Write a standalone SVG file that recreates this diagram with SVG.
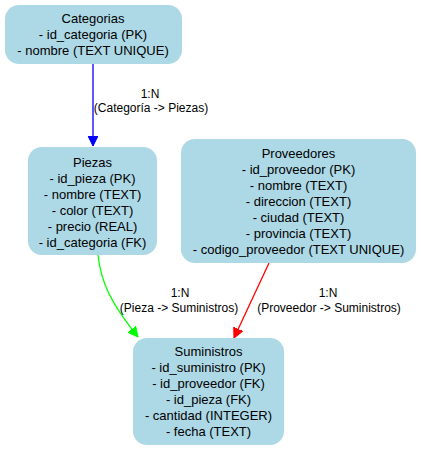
<svg xmlns="http://www.w3.org/2000/svg" width="421" height="451" viewBox="0 0 421 451">
<style>
.node rect{fill:#ADD8E6;stroke:none}
.node text{font-family:"Liberation Sans",Arial,sans-serif;font-size:13px;text-anchor:middle;fill:#000}
.lbl{font-family:"Liberation Sans",Arial,sans-serif;font-size:12px;text-anchor:middle;fill:#000}
</style>
<defs>
<marker id="ab" viewBox="0 0 10 10" refX="10" refY="5" markerWidth="10" markerHeight="10" markerUnits="userSpaceOnUse" orient="auto"><path d="M0,0L10,5L0,10z" fill="#0000ff" stroke="#0000ff"/></marker>
<marker id="ag" viewBox="0 0 10 10" refX="10" refY="5" markerWidth="10" markerHeight="10" markerUnits="userSpaceOnUse" orient="auto"><path d="M0,0L10,5L0,10z" fill="#00ff00" stroke="#00ff00"/></marker>
<marker id="ar" viewBox="0 0 10 10" refX="10" refY="5" markerWidth="10" markerHeight="10" markerUnits="userSpaceOnUse" orient="auto"><path d="M0,0L10,5L0,10z" fill="#ff0000" stroke="#ff0000"/></marker>
</defs>
<rect width="421" height="451" fill="#fff"/>
<g id="connectors">
<path d="M93,64L93,146" stroke="#0000ff" stroke-width="1.3" fill="none" marker-end="url(#ab)"/>
<path d="M98,255C101,282 110,302 138,337" stroke="#00ff00" stroke-width="1.3" fill="none" marker-end="url(#ag)"/>
<path d="M269,263L234,338" stroke="#ff0000" stroke-width="1.3" fill="none" marker-end="url(#ar)"/>
<text class="lbl" x="150" y="98">1:N</text>
<text class="lbl" x="151" y="112">(Categoría -&gt; Piezas)</text>
<text class="lbl" x="180" y="297">1:N</text>
<text class="lbl" x="179" y="312">(Pieza -&gt; Suministros)</text>
<text class="lbl" x="328" y="297">1:N</text>
<text class="lbl" x="329" y="312">(Proveedor -&gt; Suministros)</text>
</g>
<g id="categorias" class="node">
<rect x="5" y="5" width="177" height="59" rx="14"/>
<text x="93" y="22.5">Categorias</text>
<text x="93" y="38.5">- id_categoria (PK)</text>
<text x="93" y="54.5">- nombre (TEXT UNIQUE)</text>
</g>
<g id="piezas" class="node">
<rect x="28" y="147" width="129" height="108" rx="14"/>
<text x="92.5" y="166.5">Piezas</text>
<text x="92.5" y="182.5">- id_pieza (PK)</text>
<text x="92.5" y="198.5">- nombre (TEXT)</text>
<text x="92.5" y="214.5">- color (TEXT)</text>
<text x="92.5" y="230.5">- precio (REAL)</text>
<text x="92.5" y="246.5">- id_categoria (FK)</text>
</g>
<g id="proveedores" class="node">
<rect x="181" y="139" width="235" height="124" rx="14"/>
<text x="298.5" y="157.5">Proveedores</text>
<text x="298.5" y="173.5">- id_proveedor (PK)</text>
<text x="298.5" y="189.5">- nombre (TEXT)</text>
<text x="298.5" y="205.5">- direccion (TEXT)</text>
<text x="298.5" y="221.5">- ciudad (TEXT)</text>
<text x="298.5" y="237.5">- provincia (TEXT)</text>
<text x="298.5" y="253.5">- codigo_proveedor (TEXT UNIQUE)</text>
</g>
<g id="suministros" class="node">
<rect x="133" y="338" width="151" height="107" rx="14"/>
<text x="208.5" y="355.5">Suministros</text>
<text x="208.5" y="371.5">- id_suministro (PK)</text>
<text x="208.5" y="387.5">- id_proveedor (FK)</text>
<text x="208.5" y="403.5">- id_pieza (FK)</text>
<text x="208.5" y="419.5">- cantidad (INTEGER)</text>
<text x="208.5" y="435.5">- fecha (TEXT)</text>
</g>
</svg>
